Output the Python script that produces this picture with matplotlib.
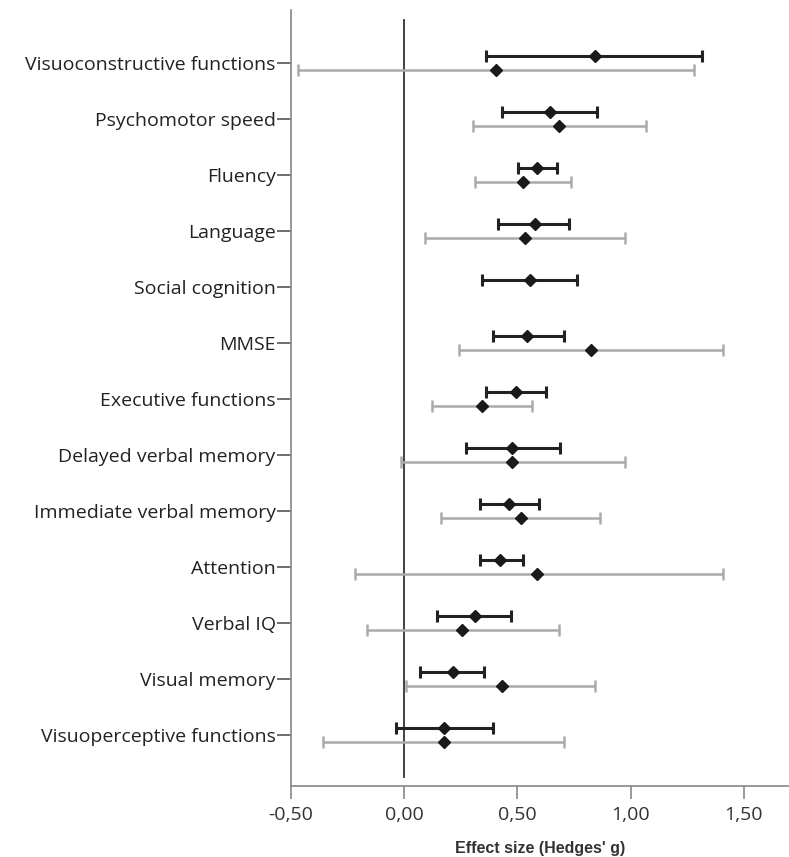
import numpy as np
import matplotlib
matplotlib.use("Agg")
import matplotlib.pyplot as plt

categories = ["Visuoconstructive functions", "Psychomotor speed", "Fluency", "Language",
              "Social cognition", "MMSE", "Executive functions", "Delayed verbal memory",
              "Immediate verbal memory", "Attention", "Verbal IQ", "Visual memory",
              "Visuoperceptive functions"]

# Series 1 (black)
est1 = [0.845, 0.645, 0.586, 0.577, 0.555, 0.544, 0.496, 0.475, 0.465, 0.423, 0.314, 0.214, 0.174]
lo1 = [0.363, 0.434, 0.503, 0.414, 0.344, 0.392, 0.363, 0.271, 0.333, 0.336, 0.143, 0.072, -0.035]
hi1 = [1.317, 0.854, 0.675, 0.727, 0.765, 0.707, 0.627, 0.687, 0.596, 0.527, 0.473, 0.354, 0.394]

# Series 2 (grey)
est2 = [0.404, 0.684, 0.525, 0.535, np.nan, 0.826, 0.344, 0.475, 0.515, 0.586, 0.254, 0.434, 0.174]
lo2 = [-0.468, 0.304, 0.313, 0.093, np.nan, 0.243, 0.124, -0.016, 0.164, -0.217, -0.165, 0.006, -0.358]
hi2 = [1.279, 1.068, 0.736, 0.977, np.nan, 1.407, 0.566, 0.977, 0.866, 1.407, 0.686, 0.845, 0.707]

xticks = [-0.5, 0.0, 0.5, 1.0, 1.5]
xticklabels = ["-0,50", "0,00", "0,50", "1,00", "1,50"]

W, H = 789, 857
fig = plt.figure(figsize=(W / 100, H / 100), dpi=100)
ax = fig.add_axes([291 / W, 1 - 786 / H, 1 - 291 / W, (786 - 10) / H])

y = np.arange(len(categories))
off = 0.125

est1 = np.array(est1); lo1 = np.array(lo1); hi1 = np.array(hi1)
est2 = np.array(est2); lo2 = np.array(lo2); hi2 = np.array(hi2)

ax.errorbar(est2, y + off, xerr=[est2 - lo2, hi2 - est2], fmt='none',
            ecolor='#aaaaaa', elinewidth=1.8, capsize=4, capthick=1.8, zorder=2)
ax.errorbar(est1, y - off, xerr=[est1 - lo1, hi1 - est1], fmt='none',
            ecolor='#222222', elinewidth=2.2, capsize=4, capthick=2.2, zorder=3)
ax.plot(est2, y + off, 'D', color='#1a1a1a', markersize=6.5, zorder=4)
ax.plot(est1, y - off, 'D', color='#1a1a1a', markersize=6.5, zorder=4)

ax.set_xlim(-0.5, 1.70)
ax.set_ylim(len(categories) - 1 + 0.91, -0.946)
ax.axvline(0, ymin=(786 - 777) / 776, ymax=(786 - 20) / 776, color='#333333', lw=1.3, zorder=1)

ax.set_yticks(y)
ax.set_yticklabels(categories, fontsize=14, color='#222222', family='Open Sans')
ax.set_xticks(xticks)
ax.set_xticklabels(xticklabels, fontsize=14, color='#333333', family='Open Sans')
ax.set_xlabel("Effect size (Hedges' g)", fontsize=11.5, fontweight='bold', color='#333333',
              family='Liberation Sans', labelpad=12)

for s in ['top', 'right']:
    ax.spines[s].set_visible(False)
for s in ['left', 'bottom']:
    ax.spines[s].set_color('#888888')
    ax.spines[s].set_linewidth(1.2)
ax.tick_params(axis='y', length=10, width=1.2, color='#555555', pad=1)
ax.tick_params(axis='x', length=9.5, width=1.2, color='#888888', pad=5)

fig.savefig("out.png", dpi=100)
